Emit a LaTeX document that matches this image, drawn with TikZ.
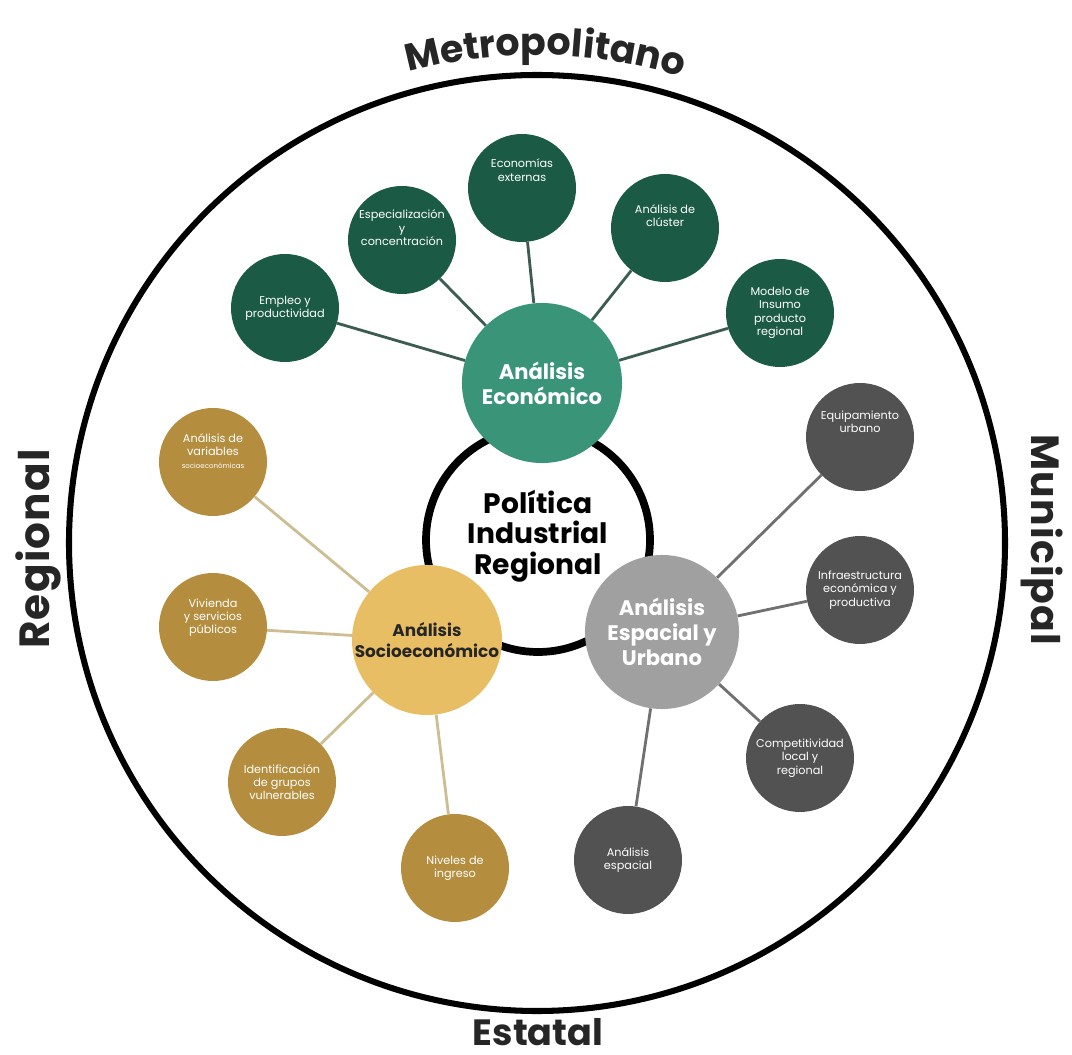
\documentclass[tikz,border=0pt]{standalone}
\usepackage{fontspec}
\setmainfont{Poppins}
\usepackage{xcolor}
\usetikzlibrary{decorations.text}

\definecolor{ecofill}{RGB}{58,148,120}
\definecolor{ecosat}{RGB}{27,90,69}
\definecolor{ecoline}{RGB}{60,92,80}
\definecolor{socfill}{RGB}{232,190,100}
\definecolor{socsat}{RGB}{180,142,62}
\definecolor{socline}{RGB}{204,190,146}
\definecolor{espfill}{RGB}{160,160,160}
\definecolor{espsat}{RGB}{82,82,82}
\definecolor{espline}{RGB}{112,112,112}

\tikzset{
  hub/.style={circle,minimum size=#1*0.05cm,inner sep=0pt,align=center,font=\bfseries},
  sat/.style={circle,minimum size=108*0.025cm,inner sep=0pt,align=center,text=white,
    font=\fontsize{8}{9.5}\selectfont},
  side/.style={font=\fontsize{26}{30}\selectfont\bfseries,text=black!85}
}

\begin{document}
\begin{tikzpicture}[x=0.025cm,y=0.025cm]
  \useasboundingbox (0,0) rectangle (1072,1054);
  \draw[line width=4.3pt] (537,511) circle[radius=468*0.025cm];
  \draw[line width=5.5pt] (538,514) circle[radius=112*0.025cm];
  \node[font=\fontsize{20}{21.5}\selectfont\bfseries,align=center] (pir) at (538,518) {Política\\Industrial\\Regional};

  \node[hub=80,fill=ecofill,text=white,font=\fontsize{15}{18}\selectfont\bfseries] (eco) at (542,671) {Análisis\\Económico};
  \node[hub=75,fill=socfill,text=black!85,font=\fontsize{12}{15}\selectfont\bfseries] (soc) at (427,414) {Análisis\\Socioeconómico};
  \node[hub=77,fill=espfill,text=white,font=\fontsize{15}{18}\selectfont\bfseries] (esp) at (662,422) {Análisis\\Espacial y\\Urbano};

  \node[sat,fill=ecosat] (g1) at (285,746) {Empleo y\\productividad};
  \node[sat,fill=ecosat] (g2) at (402,814) {Especialización\\y\\concentración\\[8pt]};
  \node[sat,fill=ecosat] (g3) at (522,866) {Economías\\externas\\[16pt]};
  \node[sat,fill=ecosat] (g4) at (665,826) {Análisis de\\clúster\\[8pt]};
  \node[sat,fill=ecosat] (g5) at (780,741) {Modelo de\\Insumo\\producto\\regional};

  \node[sat,fill=socsat] (o1) at (213,592) {Análisis de\\variables\\{\fontsize{5}{6}\selectfont socioeconómicas}\\[6pt]};
  \node[sat,fill=socsat] (o2) at (213,427) {Vivienda\\y servicios\\públicos\\[6pt]};
  \node[sat,fill=socsat] (o3) at (282,272) {Identificación\\de grupos\\vulnerables};
  \node[sat,fill=socsat] (o4) at (455,186) {Niveles de\\ingreso};

  \node[sat,fill=espsat] (d1) at (860,617) {Equipamiento\\urbano\\[12pt]};
  \node[sat,fill=espsat] (d2) at (860,464) {Infraestructura\\económica y\\productiva};
  \node[sat,fill=espsat] (d3) at (800,296) {Competitividad\\local y\\regional};
  \node[sat,fill=espsat] (d4) at (628,194) {Análisis\\espacial};

  \foreach \s in {g1,g2,g3,g4,g5}
    \draw[ecoline,line width=2pt] (eco) -- (\s);
  \foreach \s in {o1,o2,o3,o4}
    \draw[socline,line width=2pt] (soc) -- (\s);
  \foreach \s in {d1,d2,d3,d4}
    \draw[espline,line width=2pt] (esp) -- (\s);

  \node[side,rotate=90,font=\fontsize{30}{32}\selectfont\bfseries\addfontfeature{LetterSpace=3}] (reg) at (38,505) {Regional};
  \node[side,rotate=-90,font=\fontsize{28}{30}\selectfont\bfseries\addfontfeature{LetterSpace=3}] (mun) at (1042,514) {Municipal};
  \node[side,anchor=base,inner sep=1pt] (est) at (538,9) {Estatal};
  \path[decorate,decoration={text along path,text align=center,
    text={|\fontsize{27}{30}\selectfont\bfseries\color{black!85}|Metropolitano}}]
    (537,511) ++(133:488*0.025cm) arc[start angle=133,end angle=45,radius=488*0.025cm];
\end{tikzpicture}
\end{document}
